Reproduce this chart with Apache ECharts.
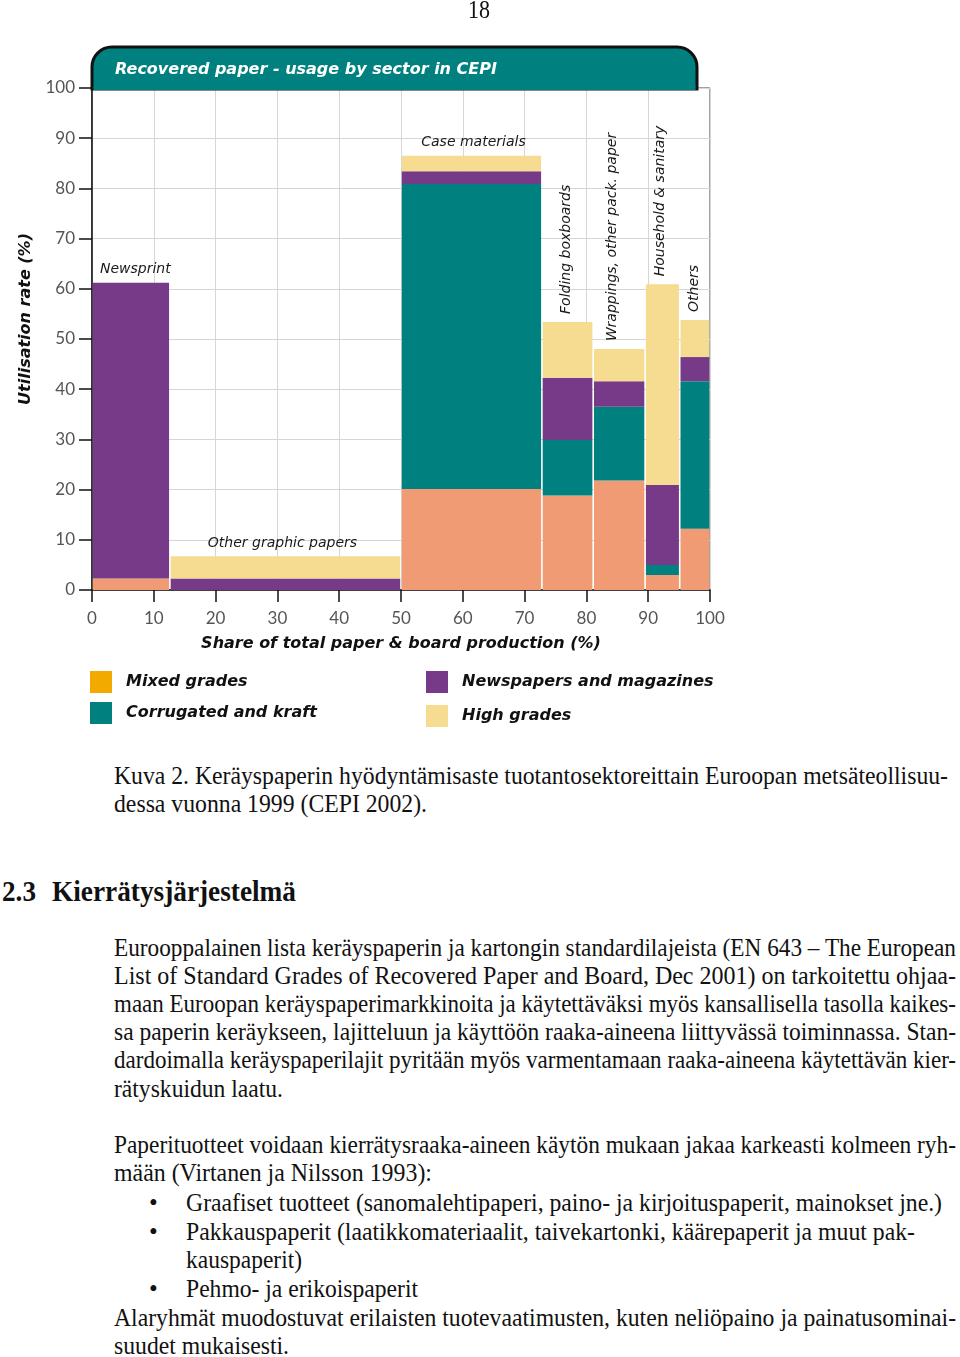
<!DOCTYPE html>
<html>
<head>
<meta charset="utf-8">
<script src="https://cdn.jsdelivr.net/npm/echarts@6/dist/echarts.min.js"></script>
<style>
  body { margin: 0; background: #fff; width: 960px; height: 1357px; position: relative; overflow: hidden; }
  #main { position: absolute; left: 0; top: 0; width: 960px; height: 740px; }
  .t { position: absolute; font-family: "Liberation Serif", "Times New Roman", serif; font-size: 25px; line-height: 28px; height: 28px; color: #111; white-space: nowrap; transform-origin: 0 50%; }
  .b { font-weight: bold; font-size: 30px; }
</style>
</head>
<body>
<div id="main"></div>
<div id="page"></div>
<script>
// sectors, widths = share of total paper & board production (%)
var sectorNames = ['Newsprint', 'Other graphic papers', 'Case materials', 'Folding boxboards',
  'Wrappings, other pack. paper', 'Household & sanitary', 'Others'];
var sectorShare = [12.6, 37.4, 22.8, 8.3, 8.4, 5.6, 4.9];

// utilisation rate (%) by recovered paper grade, stacked bottom -> top
var gradeNames = ['Mixed grades', 'Corrugated and kraft', 'Newspapers and magazines', 'High grades'];
var mixedGrades = [2.3, 0, 20.1, 18.8, 21.8, 3.0, 12.2];
var corrugatedKraft = [0, 0, 60.8, 11.1, 14.7, 2.0, 29.4];
var newspapersMagazines = [58.9, 2.3, 2.5, 12.4, 5.1, 15.9, 4.8];
var highGrades = [0, 4.4, 3.1, 11.1, 6.4, 40.0, 7.4];

var gradeColors = ['#F09B73', '#00807F', '#763A89', '#F5DC91'];
var mixedLegendColor = '#F2A900';

// label look per sector (not data)
var labelRotate = [0, 0, 0, 1, 1, 1, 1];
var labelAlign = ['left', 'center', 'center', 'left', 'left', 'left', 'left'];
var labelDx = [8, -3, 2, -1, -7, -2, 0];

var gradeValues = [mixedGrades, corrugatedKraft, newspapersMagazines, highGrades];

var starts = [];
var acc = 0;
sectorShare.forEach(function (w) { starts.push(acc); acc += w; });

var tops = sectorShare.map(function () { return 0; });
var blockData = gradeValues.map(function (vals) {
  var out = [];
  vals.forEach(function (v, i) {
    if (v > 0) out.push([starts[i], starts[i] + sectorShare[i], tops[i], tops[i] + v]);
    tops[i] += v;
  });
  return out;
});
var labelData = sectorNames.map(function (n, i) {
  return [starts[i], starts[i] + sectorShare[i], tops[i], i];
});

function renderBlock(params, api) {
  var p0 = api.coord([api.value(0), api.value(3)]);
  var p1 = api.coord([api.value(1), api.value(2)]);
  return {
    type: 'rect',
    shape: { x: p0[0] + 0.8, y: p0[1], width: p1[0] - p0[0] - 1.6, height: p1[1] - p0[1] },
    style: api.style()
  };
}

function renderSectorLabel(params, api) {
  var i = api.value(3);
  var left = api.coord([api.value(0), api.value(2)]);
  var right = api.coord([api.value(1), api.value(2)]);
  var font = 'italic 14px "DejaVu Sans", sans-serif';
  if (labelRotate[i]) {
    return {
      type: 'text',
      x: (left[0] + right[0]) / 2 + labelDx[i],
      y: left[1] - 8,
      rotation: Math.PI / 2,
      style: { text: sectorNames[i], align: 'left', verticalAlign: 'middle', font: font, fill: '#1a1a1a' }
    };
  }
  var x = labelAlign[i] === 'left' ? left[0] + labelDx[i] : (left[0] + right[0]) / 2 + labelDx[i];
  return {
    type: 'text',
    x: x,
    y: left[1] - 13,
    style: { text: sectorNames[i], align: labelAlign[i], verticalAlign: 'middle', font: font, fill: '#1a1a1a' }
  };
}

var boldItalic = { fontFamily: 'DejaVu Sans', fontWeight: 'bold', fontStyle: 'italic', fontSize: 16, color: '#111' };

var series = gradeNames.map(function (name, g) {
  return {
    name: name,
    type: 'custom',
    renderItem: renderBlock,
    itemStyle: { color: gradeColors[g] },
    encode: { x: [0, 1], y: [2, 3] },
    data: blockData[g],
    z: 2
  };
});
series.push({
  name: 'labels',
  type: 'custom',
  renderItem: renderSectorLabel,
  encode: { x: [0, 1], y: 2 },
  data: labelData,
  silent: true,
  z: 3
});

var legendText = Object.assign({}, boldItalic, { padding: [0, 0, 0, 9] });

var option = {
  animation: false,
  grid: { left: 92, right: 250, top: 88, bottom: 150, show: true, borderColor: '#444', borderWidth: 1 },
  xAxis: {
    type: 'value', min: 0, max: 100, interval: 10,
    name: 'Share of total paper & board production (%)',
    nameLocation: 'middle', nameGap: 46,
    nameTextStyle: boldItalic,
    axisLine: { show: true, lineStyle: { color: '#111', width: 1.5 } },
    axisTick: { show: true, length: 12, lineStyle: { color: '#111', width: 1.5 } },
    axisLabel: { margin: 20, fontFamily: 'Lato', fontSize: 17, color: '#555' },
    splitLine: { show: true, lineStyle: { color: '#d6d6d6', width: 1 } }
  },
  yAxis: {
    type: 'value', min: 0, max: 100, interval: 10,
    name: 'Utilisation rate (%)',
    nameLocation: 'middle', nameGap: 58, nameRotate: 90,
    nameTextStyle: Object.assign({}, boldItalic, { padding: [0, 0, 0, 40] }),
    axisLine: { show: true, lineStyle: { color: '#111', width: 1.5 } },
    axisTick: { show: true, length: 13, lineStyle: { color: '#111', width: 1.5 } },
    axisLabel: { margin: 17, fontFamily: 'Lato', fontSize: 17, color: '#555' },
    splitLine: { show: true, lineStyle: { color: '#d6d6d6', width: 1 } }
  },
  legend: [
    {
      left: 85, top: 666, orient: 'vertical', itemWidth: 22, itemHeight: 22, itemGap: 9,
      selectedMode: false, icon: 'rect',
      textStyle: legendText,
      data: [{ name: gradeNames[0], itemStyle: { color: mixedLegendColor } }, gradeNames[1]]
    },
    {
      left: 421, top: 666, orient: 'vertical', itemWidth: 22, itemHeight: 22, itemGap: 12,
      selectedMode: false, icon: 'rect',
      textStyle: legendText,
      data: [gradeNames[2], gradeNames[3]]
    }
  ],
  graphic: [
    {
      type: 'rect', x: 92, y: 47, z: 10,
      shape: { x: 0, y: 0, width: 605, height: 42, r: [20, 20, 0, 0] },
      style: { fill: '#00807F', stroke: '#111', lineWidth: 3 }
    },
    {
      type: 'rect', x: 93.5, y: 86, z: 10,
      shape: { x: 0, y: 0, width: 602, height: 4 },
      style: { fill: '#00807F' }
    },
    {
      type: 'text', x: 115, y: 70, z: 11,
      style: {
        text: 'Recovered paper - usage by sector in CEPI', fill: '#fff',
        font: 'italic bold 16px "DejaVu Sans", sans-serif', verticalAlign: 'middle'
      }
    }
  ],
  series: series
};

var chart = echarts.init(document.getElementById('main'));
chart.setOption(option);

// page text below the figure
var lines = [
  { s: '18', x: 468, y: 10, w: 22 },
  { s: 'Kuva 2. Keräyspaperin hyödyntämisaste tuotantosektoreittain Euroopan metsäteollisuu-', x: 114, y: 776, w: 834 },
  { s: 'dessa vuonna 1999 (CEPI 2002).', x: 114, y: 804, w: 313 },
  { s: '2.3', x: 2, y: 891, w: 34, b: true },
  { s: 'Kierrätysjärjestelmä', x: 52, y: 891, w: 244, b: true },
  { s: 'Eurooppalainen lista keräyspaperin ja kartongin standardilajeista (EN 643 – The European', x: 114, y: 948, w: 842 },
  { s: 'List of Standard Grades of Recovered Paper and Board, Dec 2001) on tarkoitettu ohjaa-', x: 114, y: 976, w: 842 },
  { s: 'maan Euroopan keräyspaperimarkkinoita ja käytettäväksi myös kansallisella tasolla kaikes-', x: 114, y: 1004, w: 842 },
  { s: 'sa paperin keräykseen, lajitteluun ja käyttöön raaka-aineena liittyvässä toiminnassa. Stan-', x: 114, y: 1032, w: 842 },
  { s: 'dardoimalla keräyspaperilajit pyritään myös varmentamaan raaka-aineena käytettävän kier-', x: 114, y: 1060, w: 842 },
  { s: 'rätyskuidun laatu.', x: 114, y: 1089, w: 169 },
  { s: 'Paperituotteet voidaan kierrätysraaka-aineen käytön mukaan jakaa karkeasti kolmeen ryh-', x: 114, y: 1145, w: 842 },
  { s: 'mään (Virtanen ja Nilsson 1993):', x: 114, y: 1173, w: 318 },
  { s: '•', x: 149, y: 1203 },
  { s: 'Graafiset tuotteet (sanomalehtipaperi, paino- ja kirjoituspaperit, mainokset jne.)', x: 186, y: 1203, w: 756 },
  { s: '•', x: 149, y: 1232 },
  { s: 'Pakkauspaperit (laatikkomateriaalit, taivekartonki, käärepaperit ja muut pak-', x: 186, y: 1232, w: 729 },
  { s: 'kauspaperit)', x: 186, y: 1260, w: 116 },
  { s: '•', x: 149, y: 1289 },
  { s: 'Pehmo- ja erikoispaperit', x: 186, y: 1289, w: 232 },
  { s: 'Alaryhmät muodostuvat erilaisten tuotevaatimusten, kuten neliöpaino ja painatusominai-', x: 114, y: 1318, w: 842 },
  { s: 'suudet mukaisesti.', x: 114, y: 1346, w: 175 }
];
var page = document.getElementById('page');
lines.forEach(function (l) {
  var d = document.createElement('div');
  d.className = l.b ? 't b' : 't';
  d.textContent = l.s;
  d.style.left = l.x + 'px';
  d.style.top = (l.y - 14) + 'px';
  page.appendChild(d);
  if (l.w) {
    var k = l.w / d.getBoundingClientRect().width;
    d.style.transform = 'scaleX(' + k.toFixed(4) + ')';
  }
});
</script>
</body>
</html>
